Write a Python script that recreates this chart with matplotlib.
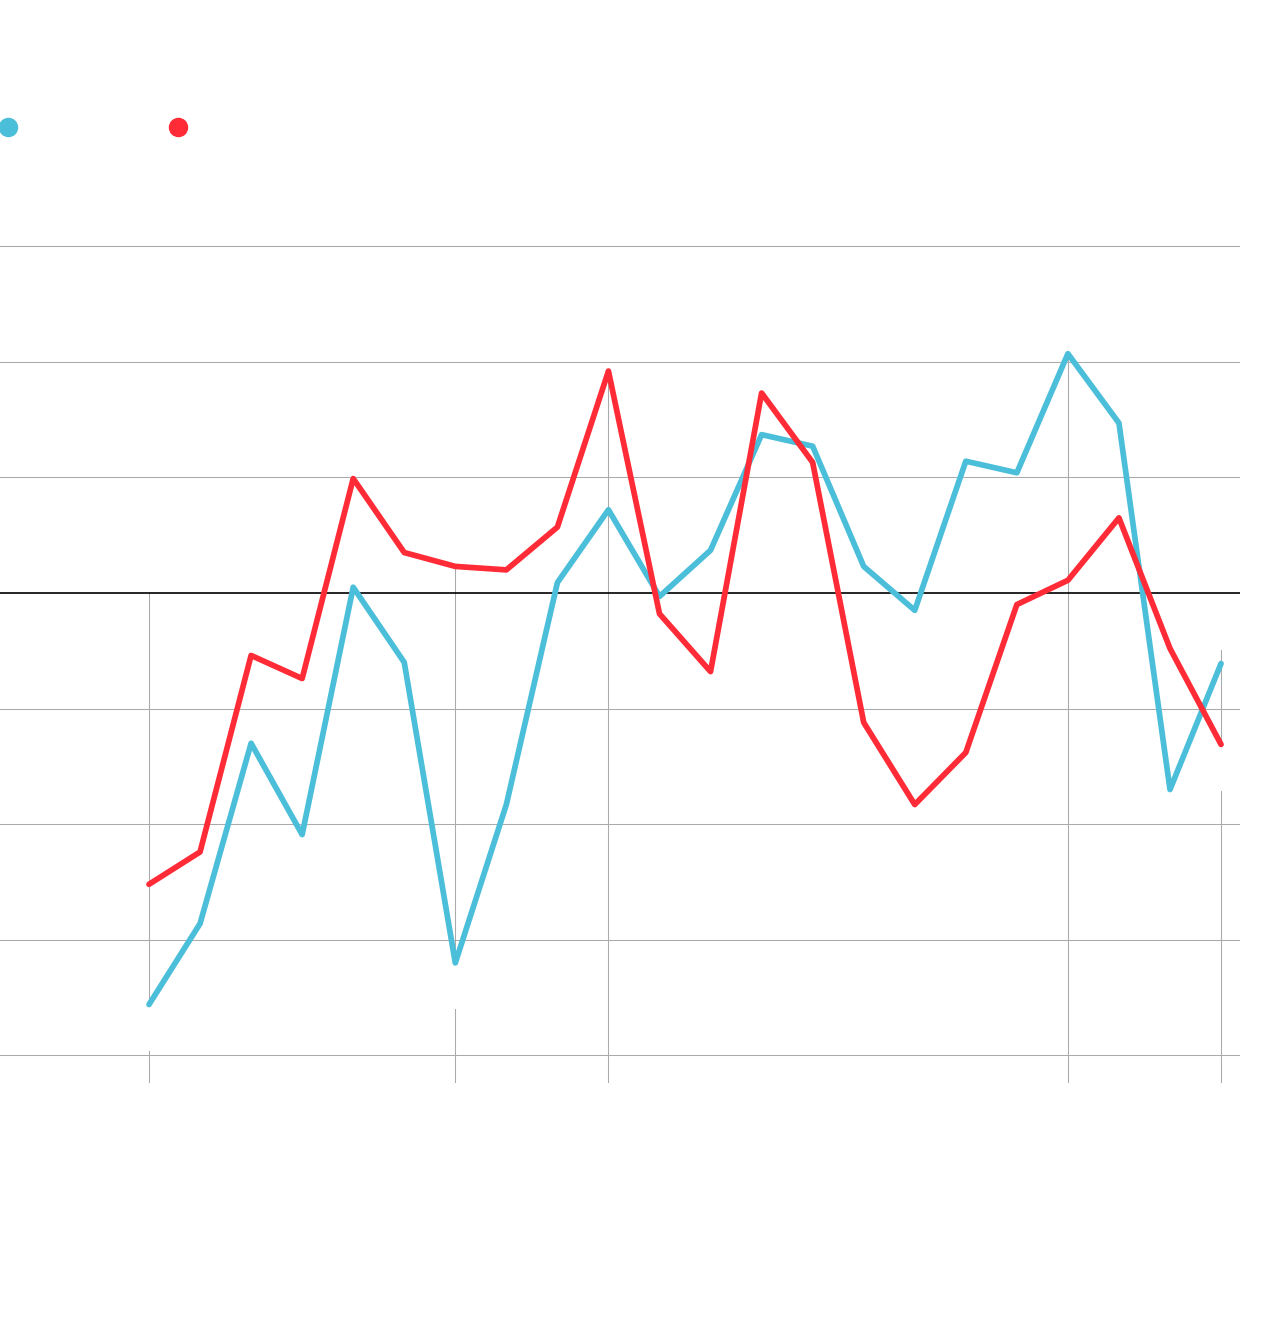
import matplotlib
matplotlib.use("Agg")
import matplotlib.pyplot as plt
from matplotlib.lines import Line2D

# Series values (one point per period)
periods = list(range(22))
blue_vals = [-35.6, -28.6, -13.0, -20.9, 0.5, -6.0, -32.0, -18.3, 0.9, 7.2, -0.3,
             3.7, 13.7, 12.7, 2.3, -1.5, 11.4, 10.4, 20.7, 14.7, -17.0, -6.1]
red_vals = [-25.2, -22.4, -5.4, -7.4, 9.9, 3.5, 2.3, 2.0, 5.7, 19.2, -1.8,
            -6.8, 17.3, 11.3, -11.2, -18.3, -13.8, -1.0, 1.1, 6.5, -4.8, -13.1]

# Marker columns (vertical rules) and the value where each rule starts
marker_idx = [0, 6, 9, 18, 21]
marker_tops = [0.0, 2.3, 19.2, 20.7, -4.9]
marker_gap = [True, True, False, False, True]

grid_vals = [30, 20, 10, -10, -20, -30, -40]

BLUE = "#4BBED9"
RED = "#FF2B36"
GRID = "#aaaaaa"

fig = plt.figure(figsize=(12.8, 13.2), dpi=100)
ax = fig.add_axes([0, 1 - 1100 / 1320, 1240 / 1280, 960 / 1320])
ax.set_xlim(-149 / 51.05, (1240 - 149) / 51.05)
ax.set_ylim((593 - 1100) / 11.56, (593 - 140) / 11.56)
ax.axis("off")

# horizontal grid
for g in grid_vals:
    ax.axhline(g, color=GRID, lw=0.75, zorder=1)
ax.axhline(0, color="black", lw=1.2, zorder=2)

# vertical rules
bottom = (593 - 1082) / 11.56
for i, top, gap in zip(marker_idx, marker_tops, marker_gap):
    low = min(blue_vals[i], red_vals[i])
    if gap:
        ax.plot([i, i], [top, low], color=GRID, lw=0.75, zorder=1)
        ax.plot([i, i], [low - 4.0, bottom], color=GRID, lw=0.75, zorder=1)
    else:
        ax.plot([i, i], [top, bottom], color=GRID, lw=0.75, zorder=1)

ax.plot(periods, blue_vals, color=BLUE, lw=4.1, solid_joinstyle="round",
        solid_capstyle="round", zorder=3)
ax.plot(periods, red_vals, color=RED, lw=4.1, solid_joinstyle="round",
        solid_capstyle="round", zorder=4)

# legend dots
for x, c in [(8, BLUE), (178, RED)]:
    fig.add_artist(Line2D([x / 1280], [1 - 127 / 1320], marker="o", markersize=13,
                          color=c, transform=fig.transFigure, linestyle="none"))

fig.savefig("out.png", dpi=100, facecolor="white")
